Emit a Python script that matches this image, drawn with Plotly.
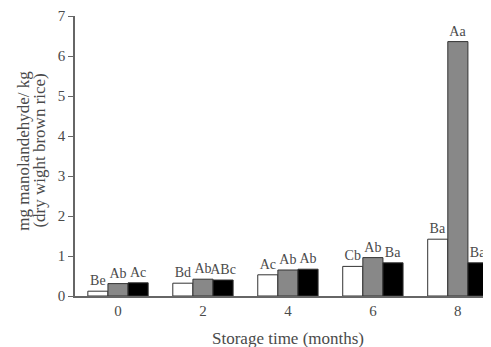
import plotly.graph_objects as go

months = ["0", "2", "4", "6", "8"]
white_vals = [0.12, 0.32, 0.53, 0.74, 1.42]
gray_vals = [0.31, 0.42, 0.65, 0.96, 6.36]
black_vals = [0.33, 0.40, 0.67, 0.83, 0.83]
white_lbl = ["Be", "Bd", "Ac", "Cb", "Ba"]
gray_lbl = ["Ab", "Ab", "Ab", "Ab", "Aa"]
black_lbl = ["Ac", "ABc", "Ab", "Ba", "Ba"]
y_ticks = [0, 1, 2, 3, 4, 5, 6, 7]

FONT = "Liberation Serif"
TXT = "#4a4a4a"

fig = go.Figure()
for vals, lbl, col in [(white_vals, white_lbl, "#ffffff"),
                       (gray_vals, gray_lbl, "#888888"),
                       (black_vals, black_lbl, "#000000")]:
    fig.add_trace(go.Bar(
        x=months, y=vals, text=lbl, textposition="outside",
        constraintext="none",
        textfont=dict(family=FONT, size=14, color=TXT),
        marker=dict(color=col, line=dict(color="#333333", width=1)),
        cliponaxis=False, showlegend=False,
    ))

fig.update_layout(
    width=483, height=339,
    margin=dict(l=67, r=0, t=8, b=51, autoexpand=False),
    paper_bgcolor="white", plot_bgcolor="white",
    barmode="group", bargap=0.29, bargroupgap=0,
    font=dict(family=FONT, size=15, color=TXT),
    xaxis=dict(type="category", range=[-0.506, 4.39], showline=True,
               linecolor="#666666", linewidth=1.5, ticks="",
               automargin=False,
               tickfont=dict(family=FONT, size=15, color=TXT)),
    yaxis=dict(range=[0, 7], tickvals=y_ticks, showline=True,
               linecolor="#666666", linewidth=1.5, ticks="outside",
               ticklen=5, tickcolor="#666666", showgrid=False,
               zeroline=False, automargin=False,
               tickfont=dict(family=FONT, size=15, color=TXT)),
    annotations=[
        dict(text="mg manolandehyde/ kg", textangle=-90,
             xref="paper", yref="paper", x=-0.123, y=0.518,
             xanchor="center", yanchor="middle", showarrow=False,
             font=dict(family=FONT, size=17, color=TXT)),
        dict(text="(dry wight brown rice)", textangle=-90,
             xref="paper", yref="paper", x=-0.085, y=0.518,
             xanchor="center", yanchor="middle", showarrow=False,
             font=dict(family=FONT, size=17, color=TXT)),
        dict(text="Storage time (months)",
             xref="paper", yref="paper", x=0.512, y=-0.15,
             xanchor="center", yanchor="middle", showarrow=False,
             font=dict(family=FONT, size=17, color=TXT)),
    ],
)

fig.write_html("out.html")
